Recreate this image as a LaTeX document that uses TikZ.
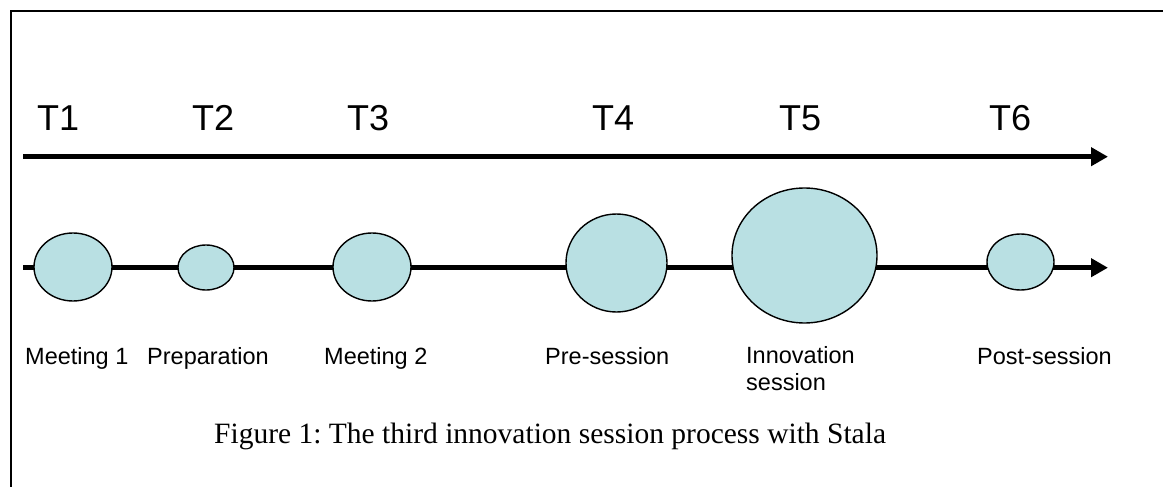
\documentclass[tikz,border=0pt]{standalone}
\usepackage{fontspec}
\setmainfont{Liberation Serif}
\newfontfamily\arialf{Liberation Sans}
\usetikzlibrary{shapes.geometric,arrows.meta}
\frenchspacing
\definecolor{bubble}{RGB}{185,224,227}
\tikzset{
  frameline/.style={line width=2.5pt, line cap=rect},
  axis/.style={line width=5.5pt, -{Triangle[length=17pt,width=18pt]}},
  bubblenode/.style={ellipse, draw=black, line width=1.4pt, fill=bubble, inner sep=0pt, outer sep=0pt},
  tlabel/.style={anchor=base west, inner sep=0pt, font=\arialf\fontsize{36}{40}\selectfont},
  slabel/.style={anchor=base west, inner sep=0pt, align=left, font=\arialf\fontsize{23.5}{27}\selectfont},
  caption/.style={anchor=base west, inner sep=0pt, font=\frenchspacing\fontsize{29.5}{32}\selectfont}
}
\begin{document}
\begin{tikzpicture}[x=1pt,y=-1pt]
\useasboundingbox (0,0) rectangle (1163,487);
% frame
\coordinate (fbl) at (11,487);
\coordinate (ftl) at (11,11);
\coordinate (ftr) at (1163,11);
\draw[frameline] (fbl) -- (ftl) -- (ftr);
% time labels
\node[tlabel] (t1) at (37,130) {T1};
\node[tlabel] (t2) at (192,130) {T2};
\node[tlabel] (t3) at (347,130) {T3};
\node[tlabel] (t4) at (592,130) {T4};
\node[tlabel] (t5) at (779,130) {T5};
\node[tlabel] (t6) at (989,130) {T6};
% time axis
\coordinate (a0) at (23,156.7);
\coordinate (a1) at (1108,156.7);
\draw[axis] (a0) -- (a1);
% process axis
\coordinate (b0) at (23,267.7);
\coordinate (b1) at (1108,267.7);
\draw[axis] (b0) -- (b1);
% bubbles
\node[bubblenode, minimum width=78pt, minimum height=68pt] (e1) at (73,267) {};
\node[bubblenode, minimum width=56pt, minimum height=45pt] (e2) at (206,267.5) {};
\node[bubblenode, minimum width=78pt, minimum height=68pt] (e3) at (372,267) {};
\node[bubblenode, minimum width=101pt, minimum height=98pt] (e4) at (616.5,263) {};
\node[bubblenode, minimum width=145pt, minimum height=135pt] (e5) at (804.5,255.5) {};
\node[bubblenode, minimum width=67pt, minimum height=56pt] (e6) at (1020.5,262) {};
% stage labels
\node[slabel] (l1) at (25,364) {Meeting 1};
\node[slabel] (l2) at (147,364) {Preparation};
\node[slabel] (l3) at (324,364) {Meeting 2};
\node[slabel] (l4) at (545,364) {Pre-session};
\node[slabel] (l5) at (746,390) {Innovation\\session};
\node[slabel] (l6) at (977,364) {Post-session};
% caption
\node[caption] (cap) at (214,443) {Figure 1: The third innovation session process with Stala};
\end{tikzpicture}
\end{document}
